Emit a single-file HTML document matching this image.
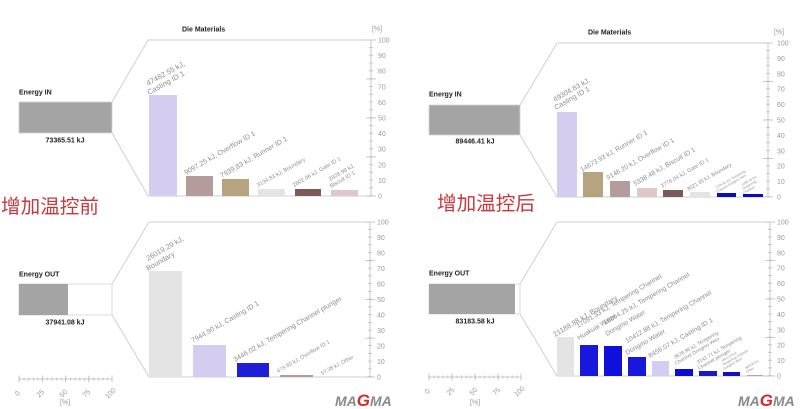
<!DOCTYPE html>
<html><head><meta charset="utf-8"><style>
html,body{margin:0;padding:0;background:#fff;}
svg{display:block;}
text{font-family:"Liberation Sans","Noto Sans CJK SC",sans-serif;}
.lb{fill:#8e8e8e;}
.tk{fill:#9a9a9a;font-size:7px;}
.b{font-weight:bold;fill:#222;font-size:7px;}
</style></head><body>
<svg width="800" height="409" viewBox="0 0 800 409" xmlns="http://www.w3.org/2000/svg">
<rect width="800" height="409" fill="#fff"/>

<!-- ============ TOP LEFT ============ -->
<text class="b" x="182" y="31.5">Die Materials</text>
<text class="tk" x="377" y="31" text-anchor="middle">[%]</text>
<text class="b" x="19" y="94.5">Energy IN</text>
<rect x="19" y="102" width="93" height="31" fill="#a4a4a4" stroke="#d4d4d4" stroke-width="0.8"/>
<text class="b" x="65" y="142.5" text-anchor="middle">73365.51 kJ</text>
<polyline points="112,102 148,40 371,40" fill="none" stroke="#cfcfcf" stroke-width="1"/>
<polyline points="112,133 148,196 371,196" fill="none" stroke="#cfcfcf" stroke-width="1"/>
<line x1="371" y1="40" x2="371" y2="196" stroke="#bdbdbd" stroke-width="0.8"/>
<line x1="371" y1="196" x2="371" y2="40" stroke="#bdbdbd" stroke-width="4" stroke-dasharray="0.8 7"/>
<g stroke="#bdbdbd" stroke-width="0.8"><line x1="366" y1="196" x2="376" y2="196"/><line x1="366" y1="157" x2="376" y2="157"/><line x1="366" y1="118" x2="376" y2="118"/><line x1="366" y1="79" x2="376" y2="79"/><line x1="366" y1="40" x2="376" y2="40"/></g>
<g class="tk"><text x="378" y="42.5">100</text><text x="378" y="58">90</text><text x="378" y="73.7">80</text><text x="378" y="89.3">70</text><text x="378" y="104.9">60</text><text x="378" y="120.5">50</text><text x="378" y="136.1">40</text><text x="378" y="151.7">30</text><text x="378" y="167.3">20</text><text x="378" y="182.9">10</text><text x="378" y="198.5">0</text></g>
<rect x="149" y="95" width="28" height="101" fill="#d5cdf0"/>
<rect x="186" y="176" width="27" height="20" fill="#b59c9c"/>
<rect x="222" y="179" width="27" height="17" fill="#b5a47f"/>
<rect x="258" y="189" width="27" height="7" fill="#e4e4e4"/>
<rect x="295" y="189" width="26" height="7" fill="#7b5b57"/>
<rect x="331" y="190" width="27" height="6" fill="#dfc8cc"/>
<g class="lb">
<text font-size="7.5" transform="translate(148,86) rotate(-29)">47482.55 kJ,</text>
<text font-size="7.5" transform="translate(149,95) rotate(-29)">Casting ID 1</text>
<text font-size="7" transform="translate(186,175) rotate(-30)">9097.25 kJ, Overflow ID 1</text>
<text font-size="7" transform="translate(222,178) rotate(-30)">7939.83 kJ, Runner ID 1</text>
<text font-size="5.6" transform="translate(258,187) rotate(-29)">3134.83 kJ, Boundary</text>
<text font-size="5.6" transform="translate(294,187) rotate(-30)">2802.06 kJ, Gate ID 1</text>
<text font-size="5.6" transform="translate(330,181) rotate(-30)">2828.98 kJ,</text>
<text font-size="5.6" transform="translate(331,188) rotate(-30)">Biscuit ID 1</text>
</g>
<text x="1" y="213" font-size="19.6" fill="#c8373c" style="font-family:'Noto Sans CJK SC',sans-serif">增加温控前</text>

<!-- ============ TOP RIGHT ============ -->
<text class="b" x="588" y="34.5">Die Materials</text>
<text class="tk" x="779" y="34" text-anchor="middle">[%]</text>
<text class="b" x="429" y="96.5">Energy IN</text>
<rect x="429" y="105" width="91" height="30" fill="#a4a4a4" stroke="#d4d4d4" stroke-width="0.8"/>
<text class="b" x="475" y="143.5" text-anchor="middle">89446.41 kJ</text>
<polyline points="520,105 557,43 768,43" fill="none" stroke="#cfcfcf" stroke-width="1"/>
<polyline points="520,135 557,197 768,197" fill="none" stroke="#cfcfcf" stroke-width="1"/>
<line x1="768" y1="43" x2="768" y2="197" stroke="#bdbdbd" stroke-width="0.8"/>
<line x1="768" y1="197" x2="768" y2="43" stroke="#bdbdbd" stroke-width="4" stroke-dasharray="0.8 6.9"/>
<g stroke="#bdbdbd" stroke-width="0.8"><line x1="763" y1="197" x2="773" y2="197"/><line x1="763" y1="158.5" x2="773" y2="158.5"/><line x1="763" y1="120" x2="773" y2="120"/><line x1="763" y1="81.5" x2="773" y2="81.5"/><line x1="763" y1="43" x2="773" y2="43"/></g>
<g class="tk"><text x="777" y="45.5">100</text><text x="777" y="60.9">90</text><text x="777" y="76.3">80</text><text x="777" y="91.7">70</text><text x="777" y="107.1">60</text><text x="777" y="122.5">50</text><text x="777" y="137.9">40</text><text x="777" y="153.3">30</text><text x="777" y="168.7">20</text><text x="777" y="184.1">10</text><text x="777" y="199.5">0</text></g>
<rect x="557" y="112" width="20" height="85" fill="#d5cdf0"/>
<rect x="583" y="172" width="20" height="25" fill="#b5a47f"/>
<rect x="610" y="181" width="20" height="16" fill="#b59c9c"/>
<rect x="637" y="188" width="20" height="9" fill="#dfc8cc"/>
<rect x="663" y="190" width="20" height="7" fill="#7b5b57"/>
<rect x="690" y="192" width="20" height="5" fill="#e4e4e4"/>
<rect x="717" y="193" width="19" height="4" fill="#0a0acc"/>
<rect x="743" y="194" width="20" height="3" fill="#0a0acc"/>
<g class="lb">
<text font-size="7.2" transform="translate(555,102) rotate(-30)">49304.83 kJ,</text>
<text font-size="7.2" transform="translate(556,110) rotate(-30)">Casting ID 1</text>
<text font-size="6.7" transform="translate(582,172) rotate(-30)">14673.93 kJ, Runner ID 1</text>
<text font-size="6.7" transform="translate(608,180) rotate(-30)">9146.20 kJ, Overflow ID 1</text>
<text font-size="6.7" transform="translate(635,186) rotate(-30)">5338.48 kJ, Biscuit ID 1</text>
<text font-size="5.6" transform="translate(662,188) rotate(-30)">3776.04 kJ, Gate ID 1</text>
<text font-size="5.2" transform="translate(688,191) rotate(-30)">3021.35 kJ, Boundary</text>
<text font-size="3.4" transform="translate(716,189) rotate(-30)">1376.91 kJ, Tempering</text>
<text font-size="3.4" transform="translate(717,193) rotate(-30)">Channel Dongmo Wen</text>
<text font-size="3.4" transform="translate(742,186) rotate(-30)">1260.36 kJ,</text>
<text font-size="3.4" transform="translate(743,190) rotate(-30)">Tempering</text>
<text font-size="3.4" transform="translate(744,194) rotate(-30)">Channel</text>
</g>
<text x="437" y="210" font-size="19.6" fill="#c8373c" style="font-family:'Noto Sans CJK SC',sans-serif">增加温控后</text>

<!-- ============ BOTTOM LEFT ============ -->
<text class="b" x="19" y="276.5">Energy OUT</text>
<rect x="19" y="284" width="93" height="31" fill="#fff" stroke="#d4d4d4" stroke-width="0.8"/>
<rect x="19" y="284" width="49" height="31" fill="#a4a4a4"/>
<text class="b" x="65" y="324.5" text-anchor="middle">37941.08 kJ</text>
<polyline points="112,284 149,222 370,222" fill="none" stroke="#cfcfcf" stroke-width="1"/>
<polyline points="112,315 149,377 370,377" fill="none" stroke="#cfcfcf" stroke-width="1"/>
<line x1="370" y1="222" x2="370" y2="377" stroke="#bdbdbd" stroke-width="0.8"/>
<line x1="370" y1="377" x2="370" y2="222" stroke="#bdbdbd" stroke-width="4" stroke-dasharray="0.8 6.95"/>
<g stroke="#bdbdbd" stroke-width="0.8"><line x1="365" y1="377" x2="375" y2="377"/><line x1="365" y1="338.25" x2="375" y2="338.25"/><line x1="365" y1="299.5" x2="375" y2="299.5"/><line x1="365" y1="260.75" x2="375" y2="260.75"/><line x1="365" y1="222" x2="375" y2="222"/></g>
<g class="tk"><text x="377" y="224.5">100</text><text x="377" y="240">90</text><text x="377" y="255.5">80</text><text x="377" y="271">70</text><text x="377" y="286.5">60</text><text x="377" y="302">50</text><text x="377" y="317.5">40</text><text x="377" y="333">30</text><text x="377" y="348.5">20</text><text x="377" y="364">10</text><text x="377" y="379.5">0</text></g>
<rect x="149" y="271" width="33" height="106" fill="#e4e4e4"/>
<rect x="193" y="345" width="33" height="32" fill="#d5cdf0"/>
<rect x="237" y="363" width="32" height="14" fill="#1f1fd8"/>
<rect x="280" y="375" width="33" height="2" fill="#b59c9c"/>
<g class="lb">
<text font-size="7.3" transform="translate(148,261) rotate(-30)">26019.29 kJ,</text>
<text font-size="7.3" transform="translate(148,271) rotate(-30)">Boundary</text>
<text font-size="7" transform="translate(193,343) rotate(-30)">7944.90 kJ, Casting ID 1</text>
<text font-size="7" transform="translate(235,362) rotate(-30)">3446.02 kJ, Tempering Channel plunger</text>
<text font-size="5.5" transform="translate(278,373) rotate(-30)">473.50 kJ, Overflow ID 1</text>
<text font-size="5.3" transform="translate(322,375) rotate(-28)">57.38 kJ, Other</text>
</g>
<line x1="19" y1="379" x2="112" y2="379" stroke="#bdbdbd" stroke-width="0.8"/>
<line x1="19" y1="379" x2="112" y2="379" stroke="#bdbdbd" stroke-width="3" stroke-dasharray="0.8 3.85"/>
<g stroke="#bdbdbd" stroke-width="0.8"><line x1="19" y1="375.5" x2="19" y2="382.5"/><line x1="42.25" y1="375.5" x2="42.25" y2="382.5"/><line x1="65.5" y1="375.5" x2="65.5" y2="382.5"/><line x1="88.75" y1="375.5" x2="88.75" y2="382.5"/><line x1="112" y1="375.5" x2="112" y2="382.5"/></g>
<g class="tk" text-anchor="middle">
<text transform="translate(19,395) rotate(-45)">0</text>
<text transform="translate(42,395) rotate(-45)">25</text>
<text transform="translate(65,395) rotate(-45)">50</text>
<text transform="translate(88,395) rotate(-45)">75</text>
<text transform="translate(112,395) rotate(-45)">100</text>
<text x="65" y="404.5">[%]</text>
</g>
<text x="335" y="406" font-size="14" font-weight="bold" font-style="italic" fill="#8a8a8a">MA<tspan fill="#d42a2a" font-size="17">G</tspan>MA</text>

<!-- ============ BOTTOM RIGHT ============ -->
<text class="b" x="429" y="275.5">Energy OUT</text>
<rect x="429" y="284" width="91" height="30" fill="#fff" stroke="#d4d4d4" stroke-width="0.8"/>
<rect x="429" y="284" width="86" height="30" fill="#a4a4a4"/>
<text class="b" x="475" y="323.5" text-anchor="middle">83183.58 kJ</text>
<polyline points="520,284 557,222 770,222" fill="none" stroke="#cfcfcf" stroke-width="1"/>
<polyline points="520,314 557,376 770,376" fill="none" stroke="#cfcfcf" stroke-width="1"/>
<line x1="770" y1="222" x2="770" y2="376" stroke="#bdbdbd" stroke-width="0.8"/>
<line x1="770" y1="376" x2="770" y2="222" stroke="#bdbdbd" stroke-width="4" stroke-dasharray="0.8 6.9"/>
<g stroke="#bdbdbd" stroke-width="0.8"><line x1="765" y1="376" x2="775" y2="376"/><line x1="765" y1="337.5" x2="775" y2="337.5"/><line x1="765" y1="299" x2="775" y2="299"/><line x1="765" y1="260.5" x2="775" y2="260.5"/><line x1="765" y1="222" x2="775" y2="222"/></g>
<g class="tk"><text x="777" y="224.5">100</text><text x="777" y="239.9">90</text><text x="777" y="255.3">80</text><text x="777" y="270.7">70</text><text x="777" y="286.1">60</text><text x="777" y="301.5">50</text><text x="777" y="316.9">40</text><text x="777" y="332.3">30</text><text x="777" y="347.7">20</text><text x="777" y="363.1">10</text><text x="777" y="378.5">0</text></g>
<rect x="557" y="337" width="17" height="39" fill="#e4e4e4"/>
<rect x="580" y="345" width="18" height="31" fill="#1818dd"/>
<rect x="604" y="346" width="18" height="30" fill="#1010dd"/>
<rect x="628" y="357" width="18" height="19" fill="#1818dd"/>
<rect x="652" y="361" width="17" height="15" fill="#d5cdf0"/>
<rect x="675" y="369" width="18" height="7" fill="#0c0cd0"/>
<rect x="699" y="371" width="18" height="5" fill="#1a1ac8"/>
<rect x="723" y="372" width="17" height="4" fill="#1010cc"/>
<rect x="747" y="375" width="16" height="1" fill="#aaaaaa"/>
<g class="lb">
<text font-size="7.2" transform="translate(555,337) rotate(-31)">21188.88 kJ, Boundary</text>
<text font-size="6.7" transform="translate(578,328) rotate(-31)">17091.33 kJ, Tempering Channel</text>
<text font-size="6.7" transform="translate(579,340) rotate(-31)">Huakuai Water</text>
<text font-size="6.7" transform="translate(605,325) rotate(-30)">16664.25 kJ, Tempering Channel</text>
<text font-size="6.7" transform="translate(607,336) rotate(-30)">Dongmo Water</text>
<text font-size="6.7" transform="translate(627,343) rotate(-30)">10412.88 kJ, Tempering Channel</text>
<text font-size="6.7" transform="translate(627,355) rotate(-30)">Dongmo Water</text>
<text font-size="6.7" transform="translate(650,358) rotate(-30)">8456.07 kJ, Casting ID 1</text>
<text font-size="5" transform="translate(675,359) rotate(-30)">3878.96 kJ, Tempering</text>
<text font-size="5" transform="translate(676,365) rotate(-30)">Channel Dongmo Wen</text>
<text font-size="5" transform="translate(698,364) rotate(-30)">3142.71 kJ, Tempering</text>
<text font-size="5" transform="translate(699,370) rotate(-30)">Channel plunger</text>
<text font-size="3.4" transform="translate(722,362) rotate(-30)">1651.87 kJ,</text>
<text font-size="3.4" transform="translate(723,366) rotate(-30)">Tempering Channel</text>
<text font-size="3.4" transform="translate(724,370) rotate(-30)">Gongmo Wen</text>
<text font-size="3.4" transform="translate(746,369) rotate(-30)">669.40 kJ,</text>
<text font-size="3.4" transform="translate(747,373) rotate(-30)">Other</text>
</g>
<line x1="429" y1="377" x2="521" y2="377" stroke="#bdbdbd" stroke-width="0.8"/>
<line x1="429" y1="377" x2="521" y2="377" stroke="#bdbdbd" stroke-width="3" stroke-dasharray="0.8 3.8"/>
<g stroke="#bdbdbd" stroke-width="0.8"><line x1="429" y1="373.5" x2="429" y2="380.5"/><line x1="452" y1="373.5" x2="452" y2="380.5"/><line x1="475" y1="373.5" x2="475" y2="380.5"/><line x1="498" y1="373.5" x2="498" y2="380.5"/><line x1="521" y1="373.5" x2="521" y2="380.5"/></g>
<g class="tk" text-anchor="middle">
<text transform="translate(429,393) rotate(-45)">0</text>
<text transform="translate(452,393) rotate(-45)">25</text>
<text transform="translate(475,393) rotate(-45)">50</text>
<text transform="translate(498,393) rotate(-45)">75</text>
<text transform="translate(521,393) rotate(-45)">100</text>
<text x="475" y="404.5">[%]</text>
</g>
<text x="738" y="406" font-size="14" font-weight="bold" font-style="italic" fill="#8a8a8a">MA<tspan fill="#d42a2a" font-size="17">G</tspan>MA</text>
</svg>
</body></html>
